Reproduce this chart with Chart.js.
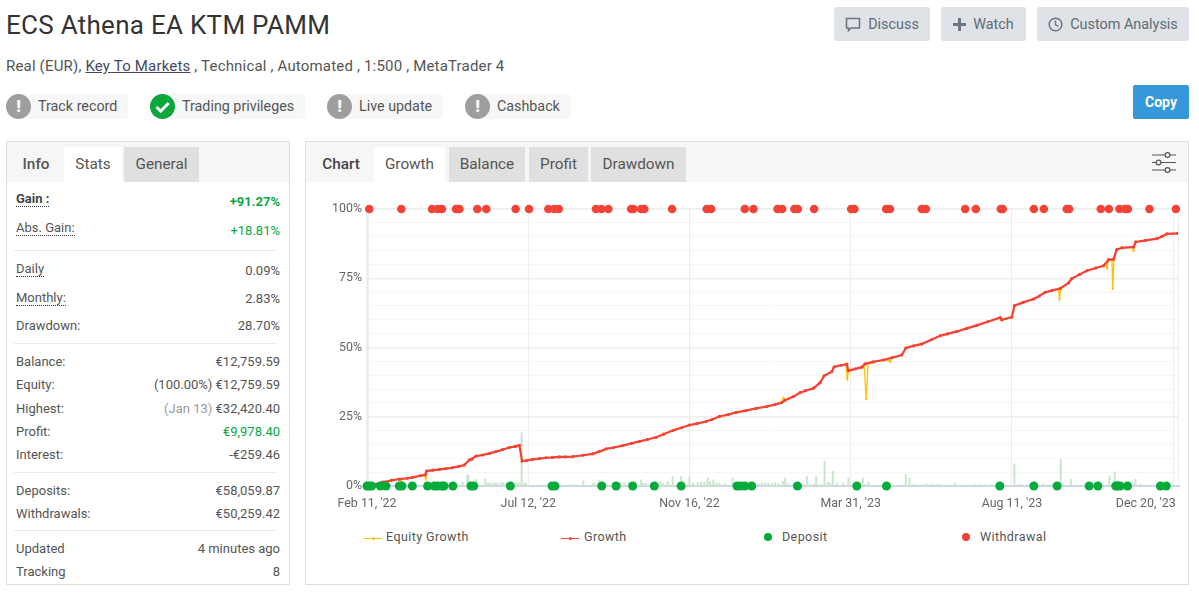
<!DOCTYPE html>
<html><head><meta charset="utf-8">
<script src="https://cdn.jsdelivr.net/npm/chart.js@4"></script>
<style>
*{box-sizing:border-box}
html,body{margin:0;padding:0;background:#fff;width:1199px;height:597px;overflow:hidden;font-family:Roboto,sans-serif;color:#555}
.a{position:absolute;white-space:nowrap}
.btn{background:#dfe3e8;border-radius:2px;height:34px;top:7px;font-size:14.4px;color:#5f6b76;display:flex;align-items:center;justify-content:center;gap:7px}
.badge{top:94px;height:25px;background:#f7f7f7;border-radius:3px;font-size:14.3px;color:#555;line-height:25px}
.ic{position:absolute;top:94px;width:25px;height:25px;border-radius:50%;background:#9e9e9e;color:#fff;font-weight:900;font-size:17px;line-height:25px;text-align:center}
.panel{border:1px solid #dedede;top:141px;height:444px;background:#fff}
.band{left:0;right:0;top:0;height:40px;background:#f6f6f6;position:absolute}
.tab{top:147px;height:35px;line-height:35px;font-size:15.3px;text-align:center;color:#555}
.row{font-size:13px;color:#555;line-height:16px}
.hr{height:1px;background:#eaeaea;left:14px;width:262px}
.leg{top:530px;font-size:12.5px;letter-spacing:.42px;color:#555;line-height:14px}
.lm{position:absolute;top:537.500px;height:1px;width:18px}
.ld{position:absolute;border-radius:50%}
</style></head><body>

<div class="a" style="left:6px;top:9px;font-size:26px;line-height:32px;color:#333;letter-spacing:.28px">ECS Athena EA KTM PAMM</div>
<div class="a" style="left:6px;top:56px;font-size:15px;line-height:20px;color:#555;letter-spacing:.18px">Real (EUR), <u style="color:#444a60">Key To Markets</u> , Technical , Automated , 1:500 , MetaTrader 4</div>

<div class="a btn" style="left:834px;width:96px"><svg width="16" height="15" viewBox="0 0 16 15"><path d="M1.5 1.5h13v9.500H6L3.500 13.500V11h-2z" fill="none" stroke="#6b7680" stroke-width="1.6"/></svg>Discuss</div>
<div class="a btn" style="left:941px;width:85px"><svg width="13" height="13" viewBox="0 0 13 13"><path d="M6.500 0v13M0 6.500h13" stroke="#6b7680" stroke-width="3"/></svg>Watch</div>
<div class="a btn" style="left:1037px;width:152px"><svg width="15" height="15" viewBox="0 0 15 15"><circle cx="7.500" cy="7.500" r="6.300" fill="none" stroke="#6b7680" stroke-width="1.5"/><path d="M7.500 3.500v4.300l3 1.600" fill="none" stroke="#6b7680" stroke-width="1.4"/></svg>Custom Analysis</div>
<div class="a" style="left:1133px;top:85px;width:56px;height:34px;background:#3498db;border-radius:2px;color:#fff;font-weight:700;font-size:14px;line-height:34px;text-align:center">Copy</div>

<div class="a badge" style="left:12px;width:116px;padding-left:26px">Track record</div><div class="ic" style="left:6px">!</div>
<div class="a badge" style="left:156px;width:149px;padding-left:26px">Trading privileges</div>
<div class="a" style="left:150px;top:94px"><svg width="25" height="25" viewBox="0 0 25 25"><circle cx="12.500" cy="12.500" r="12.500" fill="#0aa83c"/><path d="M6.500 13l4.200 4.200 8-8.200" fill="none" stroke="#fff" stroke-width="3"/></svg></div>
<div class="a badge" style="left:333px;width:110px;padding-left:26px">Live update</div><div class="ic" style="left:327px">!</div>
<div class="a badge" style="left:471px;width:100px;padding-left:26px">Cashback</div><div class="ic" style="left:465px">!</div>

<div class="a panel" style="left:6px;width:284px"><div class="band"></div></div>
<div class="a tab" style="left:14px;width:44px;font-weight:500">Info</div>
<div class="a tab" style="left:64px;width:58px;background:#fff">Stats</div>
<div class="a tab" style="left:124px;width:75px;background:#e0e0e0">General</div>
<div id="stats"></div>

<div class="a panel" style="left:305px;width:884px"><div class="band"></div></div>
<div class="a tab" style="left:317px;width:48px;font-weight:500;color:#444">Chart</div>
<div class="a tab" style="left:374px;width:71px;background:#fff">Growth</div>
<div class="a tab" style="left:449px;width:76px;background:#e0e0e0">Balance</div>
<div class="a tab" style="left:529px;width:59px;background:#e0e0e0">Profit</div>
<div class="a tab" style="left:591px;width:95px;background:#e0e0e0">Drawdown</div>
<div class="a" style="left:1152px;top:152px"><svg width="24" height="21" viewBox="0 0 24 21" fill="none" stroke="#555" stroke-width="1.2"><path d="M0 3h13M18 3h6M0 10.500h4M9 10.500h15M0 18h13M18 18h6"/><circle cx="15.500" cy="3" r="2.400"/><circle cx="6.500" cy="10.500" r="2.400"/><circle cx="15.500" cy="18" r="2.400"/></svg></div>

<div class="a" style="left:306px;top:182px;width:882px;height:340px"><canvas id="c" width="882" height="340" style="width:882px;height:340px;display:block"></canvas></div>
<div id="legend"></div>

<script>
// ---- values; x is the chart's sequential period index
const seriesNames = ["Equity Growth", "Growth", "Deposit", "Withdrawal"];
const xTickIndex = [0, 100, 200, 300, 400, 483];
const xTickLabels = ["Feb 11, '22", "Jul 12, '22", "Nov 16, '22", "Mar 31, '23", "Aug 11, '23", "Dec 20, '23"];
const xGridIndex = [0, 100, 200, 300, 400, 500, 503];

const growthX = [0,5,9.7,15,20,25,28.3,33,36,37,41,45,49,53,57,60.4,63.5,65,67.6,71.8,76,80,84,88.3,92,94.500,96.200,99,102.800,107,111,115,119.300,123,127.600,134,140,144,148.300,153,158.600,164,169,174,179.300,184,189.600,195,200,205,210.300,214,218.600,224,229,235,241.300,248,253,257.200,259.300,264.500,268.600,272,276.900,281,283.500,288.300,289.700,294,297.600,298.600,303,306.900,308.900,314,320.300,326,331.700,334.200,339,344.100,350,355.500,360,365.800,372,378.200,385,392.700,393.700,399.900,401.600,407,413.400,417,420.600,425,429.900,435.100,437.100,442,446.500,452,456.800,459.900,463,465,468.200,475.400,476.800,483,489.900,493,496.100,502.700];
const growthY = [0,0.6,1.4,2.0,2.5,2.8,3.1,3.7,4.0,5.4,5.7,6.0,6.3,6.6,7.1,7.6,9.4,9.7,10.8,11.2,11.8,12.4,13.1,13.9,14.3,14.7,9.0,9.2,9.6,9.9,10.2,10.3,10.5,10.5,10.6,11.1,11.6,12.4,13.4,13.9,14.6,15.4,16.1,16.8,17.6,18.7,20.0,21.0,22.0,22.6,23.3,24.0,25.1,25.8,26.6,27.2,28.0,28.7,29.4,30.1,31.0,32.3,33.7,34.4,35.3,37.3,39.8,41.3,43.0,43.6,44.0,41.6,42.3,42.9,44.1,44.8,45.5,46.4,47.3,49.8,50.6,51.3,52.8,54.2,54.9,55.8,56.9,58.0,59.3,60.8,60.0,61.0,65.1,66.3,67.5,68.6,69.9,70.6,71.3,73.3,74.9,76.4,77.7,78.7,79.5,81.7,81.9,85.3,86.0,86.3,88.1,88.7,89.3,90.1,91.0,91.2];

const equityX = [0,5,9.7,15,20,21,22,25,28.3,33,36,36.5,37,41,45,49,53,57,60.4,63.5,65,67.6,71.8,76,80,84,88.3,92,94.500,96.200,99,102.800,107,111,115,119.300,123,127.600,134,140,144,148.300,153,158.600,164,169,174,179.300,184,189.600,191,195,200,205,210.300,214,218.600,224,229,235,241.300,248,253,257.200,258.300,259.300,264.500,268.600,272,276.900,281,283.500,288.300,289.700,294,297.000,297.900,298.600,303,306.900,308.400,309.600,310.800,314,320.300,324.200,324.700,325.200,331.700,334.200,339,344.100,350,355.500,360,365.800,372,378.200,385,392.700,393.700,399.900,401.600,407,413.400,417,420.600,425,428.900,429.500,430.200,435.100,437.100,442,446.500,452,456.800,458.500,459,459.900,462,462.600,463.200,465,468.200,474.800,475.400,476.800,483,489.900,493,496.100,502.700];
const equityY = [0,0.6,1.2,2.0,2.5,1.9,2.5,2.7,3.0,3.7,3.9,2.8,5.3,5.7,6.0,6.3,6.6,7.1,7.6,9.4,9.7,10.8,11.2,11.8,12.4,13.1,13.9,14.3,14.7,9.0,9.2,9.5,9.9,10.1,10.3,10.5,10.5,10.6,11.1,11.6,12.4,13.4,13.9,14.6,15.3,16.1,16.8,17.6,18.7,20.0,20.4,21.0,22.0,22.6,23.3,24.0,25.0,25.6,26.5,27.2,28.0,28.7,29.4,30.1,31.8,31.0,32.3,33.7,34.4,35.3,37.3,39.8,41.3,43.0,43.6,43.6,38.9,41.6,42.3,42.9,43.5,31.4,44.0,44.8,45.5,45.2,44.9,46.1,47.3,49.8,50.6,51.1,52.8,54.2,54.9,55.7,56.9,58.0,59.3,60.8,59.8,61.0,65.1,66.3,67.5,68.6,69.9,70.6,70.9,67.7,71.1,73.3,74.9,76.4,77.7,78.7,79.5,79.8,78.7,81.7,81.5,71.2,81.9,85.3,86.0,86.2,85.0,88.1,88.7,89.3,90.0,91.0,91.2];

const tradeX = [59.3,62.2,62.9,67.6,73.4,74.9,76.3,78,79.6,81,
 83.1,84.6,86.2,92.4,94,95.9,97.6,98.6,102.8,106.9,
 117.2,127.6,129.6,134.2,140,141.6,144.1,147.2,152.4,154.5,
 157.6,159.6,162.7,165.8,170,171.4,173,181.8,183.4,186.5,
 189.6,194.8,200,202,205.1,207.2,209.3,211.3,212.8,214.8,
 216.9,218.6,221.7,226.8,229.4,231.4,235.6,242.8,244.9,247,
 249,251.1,253.1,255.2,257.9,259.4,261.4,264.5,267.6,270.7,
 272.8,274.9,276.9,278.6,281,283.8,285.8,287.3,288.9,291.4,
 295.5,298.6,307.5,309,311,314.1,318.3,326.6,334.2,336.5,
 339,345.2,347.2,350.3,353.4,355.4,358.5,364.7,368.9,377.1,
 380.2,383.3,387.5,401.5,405,409.2,413.3,419.5,422.6,430.3,
 431.9,436.5,441.2,446.4,460.5,463.8,465.4,468.1,476.6,479.9,
 483.6,489.8,496];
const tradeY = [1.4,3.9,3.9,2.4,2.6,1,1.1,1,1.1,0.9,
 1.2,1.2,0.8,1.1,1.2,19.2,1,0.9,0.3,0.3,
 0.3,0.5,0.4,1.9,0.9,1,2.2,0.9,1,1,
 1.2,1.2,1.4,1,2.2,1,1,1.7,1,1.7,
 3.4,3.4,3.4,1.2,1.4,1.5,1.4,2.9,1.6,2.2,
 1,0.9,0.8,2.9,1,0.9,0.7,0.7,1,1.1,
 1,0.9,1.2,1,1.7,2.9,0.8,1,0.6,0.5,
 3.4,0.5,0.7,3.4,0.5,9,1.4,1,5.4,1,
 1,2.9,2.9,0.6,1.4,0.4,0.4,0.3,4.3,2.7,
 0.6,0.6,0.7,0.6,0.5,0.6,0.4,1,0.3,0.5,
 0.5,0.4,0.5,8,0.6,0.5,0.6,0.7,0.5,9.6,
 0.7,2.4,0.4,0.4,3.6,5.1,1.9,0.8,2.4,0.7,
 0.4,0.3,0.3];

const depositX = [0,1.4,2.9,8.3,11.8,20,21.7,28.1,37.6,41.8,43.8,46.5,47.8,53.3,64.5,66.2,88.9,114.8,116.6,145.6,154.5,164.8,178.2,194.8,229.5,231.6,234.3,238.6,267,303.8,322.2,392.5,413.6,428,447.9,453.3,464.4,465.7,467.1,471.7,492.1,495.7];
const withdrawalX = [1.4,21.3,40.3,43.8,46.5,55.2,57.3,68.4,74,92.2,100.5,112.5,116.2,118.9,142,145.4,149.7,163.8,165.2,170,172,189.2,210.7,213.4,234.3,239.7,254.6,257.5,265.1,267.2,277.3,300.3,302.3,322,324.4,344.1,346.6,371,377.6,393.1,394.3,413.6,419.8,434,435.5,455.1,460.1,466.7,470.2,471.9,485.3,501.7];

const statRows = [
 ["Gain :",199,"+91.27%",202,"g","d"],["Abs. Gain:",228,"+18.81%",231,"g2","d2"],
 ["Daily",269,"0.09%",271,"","d2"],["Monthly:",298,"2.83%",299,"","d2"],["Drawdown:",326,"28.70%",326,"",""],
 ["Balance:",362,"€12,759.59",362,"",""],["Equity:",385,"€12,759.59",385,"",""],["Highest:",409,"€32,420.40",409,"",""],
 ["Profit:",432,"€9,978.40",432,"g2",""],["Interest:",455,"-€259.46",455,"",""],
 ["Deposits:",491,"€58,059.87",491,"",""],["Withdrawals:",514,"€50,259.42",514,"",""],
 ["Updated",549,"4 minutes ago",549,"",""],["Tracking",572,"8",572,"",""]
];
const statRules = [250,343,472,530];

// ---- page text
let h = '';
for (const [l,ly,v,vy,vc,lc] of statRows) {
  const ls = lc==='d' ? 'font-weight:700;color:#444;' : '';
  const lu = lc ? 'border-bottom:1px dotted #333;line-height:15px;' : '';
  const vs = vc==='g' ? 'color:#0aa83c;font-weight:700;' : vc==='g2' ? 'color:#0aa83c;' : '';
  let vt = v;
  if (l==='Equity:') vt = '(100.00%) '+v;
  if (l==='Highest:') vt = '<span style="color:#999">(Jan 13)</span> '+v;
  h += `<div class="a row" style="left:16px;top:${ly-8}px;${ls}${lu}">${l}</div>`;
  h += `<div class="a row" style="right:919px;top:${vy-8}px;${vs}">${vt}</div>`;
}
for (const y of statRules) h += `<div class="a hr" style="top:${y}px"></div>`;
document.getElementById('stats').innerHTML = h;

const RED='#f44336', ORG='#ffc107', GRN='#04ab3a';
document.getElementById('legend').innerHTML =
 `<div class="lm" style="left:364px;background:${ORG}"></div><div class="ld" style="left:371.500px;top:536.500px;width:3px;height:3px;background:${ORG}"></div><div class="a leg" style="left:386px">${seriesNames[0]}</div>`+
 `<div class="lm" style="left:561px;background:${RED}"></div><div class="ld" style="left:568.500px;top:536.500px;width:3px;height:3px;background:${RED}"></div><div class="a leg" style="left:584px">${seriesNames[1]}</div>`+
 `<div class="ld" style="left:764px;top:533px;width:8px;height:8px;background:${GRN}"></div><div class="a leg" style="left:782px">${seriesNames[2]}</div>`+
 `<div class="ld" style="left:962px;top:533px;width:8px;height:8px;background:${RED}"></div><div class="a leg" style="left:980px">${seriesNames[3]}</div>`;

// ---- chart
const pts = (xs, ys) => xs.map((x,i)=>({x, y: ys[i]}));
Chart.defaults.font.family = 'Roboto';
new Chart(document.getElementById('c'), {
  data: { datasets: [
    {type:'scatter', label:seriesNames[3], data:withdrawalX.map(x=>({x,y:100})), backgroundColor:RED, pointRadius:4.300, pointBorderWidth:0, clip:false, order:1},
    {type:'scatter', label:seriesNames[2], data:depositX.map(x=>({x,y:0})), backgroundColor:GRN, pointRadius:4.500, pointBorderWidth:0, clip:false, order:2},
    {type:'line', label:seriesNames[1], data:pts(growthX,growthY), borderColor:RED, backgroundColor:RED, borderWidth:2.200, pointRadius:1.600, pointBorderWidth:0, tension:0, order:3},
    {type:'line', label:seriesNames[0], data:pts(equityX,equityY), borderColor:ORG, backgroundColor:ORG, borderWidth:1.300, pointRadius:1.200, pointBorderWidth:0, tension:0, order:4},
    {type:'bar', label:'Trades', data:pts(tradeX,tradeY), backgroundColor:'#c9e7cb', barThickness:1.400, order:5}
  ]},
  options: {
    responsive:false, animation:false, events:[],
    layout:{padding:{top:27,right:10,left:0,bottom:0}},
    plugins:{legend:{display:false}, tooltip:{enabled:false}},
    scales:{
      x:{type:'linear', min:0, max:503, offset:false,
        afterBuildTicks:s=>{ s.ticks=[...new Set([...xGridIndex,...xTickIndex])].sort((a,b)=>a-b).map(value=>({value})); },
        afterFit:s=>{ s.height=36; },
        grid:{offset:false, color:c=>xGridIndex.includes(c.tick&&c.tick.value)?'#ececec':'rgba(0,0,0,0)', lineWidth:c=>(c.tick&&c.tick.value===0)?3:1, drawTicks:false, z:0},
        border:{color:'#ccd8ea', width:2},
        ticks:{autoSkip:false, maxRotation:0, padding:10, color:'#666', font:{size:12.4},
          callback:v=>{const i=xTickIndex.indexOf(v); return i>=0?xTickLabels[i]:'';}}
      },
      y:{min:0, max:100,
        afterFit:s=>{ s.width=61; },
        grid:{color:c=>(c.tick.value%25===0)?'#eeeeee':'#f6f6f6', lineWidth:c=>(c.tick.value%25===0)?1.500:1, drawTicks:false},
        border:{display:false},
        ticks:{stepSize:5, autoSkip:false, padding:5, color:'#666', font:{size:12.4},
          callback:v=>v%25===0?v+'%':''}
      }
    }
  }
});
</script>
</body></html>
